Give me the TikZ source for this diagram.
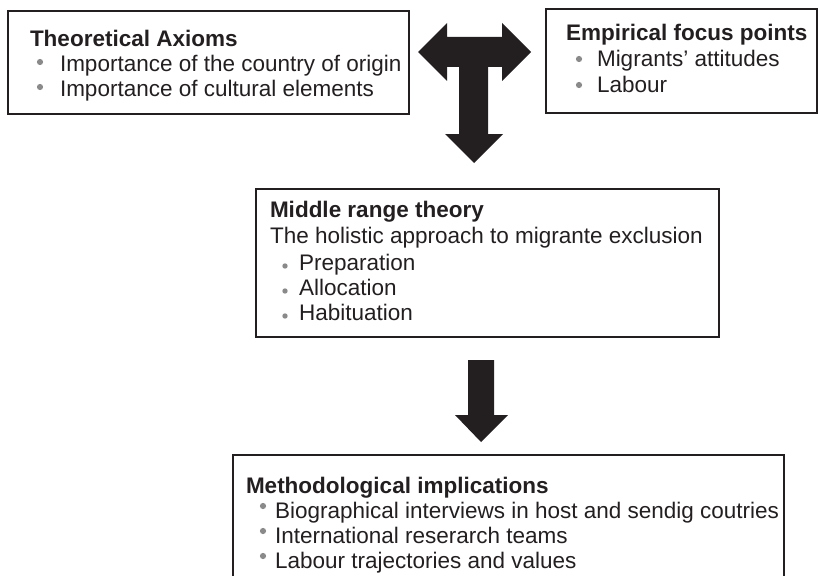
\documentclass[tikz,border=0pt]{standalone}
\usepackage{fontspec}
\setmainfont{Liberation Sans}
\definecolor{ink}{HTML}{231F20}
\definecolor{bul}{HTML}{8A8A8A}
\begin{document}
\begin{tikzpicture}[x=1pt,y=-1pt,
  box/.style={draw=ink, line width=1.7pt, rectangle, inner sep=0pt, outer sep=0pt, anchor=north west},
  txt/.style={anchor=base west, inner sep=0pt, outer sep=0pt, text=ink, font=\fontsize{22.5}{25}\selectfont},
  ttl/.style={txt, font=\fontsize{22.5}{25}\selectfont\bfseries},
  blt/.style={circle, fill=bul, inner sep=0pt, minimum size=6.2pt},
  sblt/.style={blt, minimum size=5.4pt},
  blockarrow/.style={fill=ink, draw=none}]
\useasboundingbox (0,0) rectangle (818,575);
\clip (0,0) rectangle (818,575);

% boxes
\node[box, minimum width=401pt, minimum height=103pt] (axioms) at (8,11) {};
\node[box, minimum width=271pt, minimum height=104pt] (empirical) at (546,9) {};
\node[box, minimum width=463pt, minimum height=148pt] (middle) at (256,189) {};
\node[box, minimum width=551pt, minimum height=160pt] (method) at (233,455) {};

% Theoretical Axioms
\node[ttl] (axT) at (30,47) {Theoretical Axioms};
\node[blt] (axb1) at (40,62) {};
\node[txt] (ax1) at (60,72) {Importance of the country of origin};
\node[blt] (axb2) at (40,87) {};
\node[txt] (ax2) at (60,97) {Importance of cultural elements};

% Empirical focus points
\node[ttl] (emT) at (566,41) {Empirical focus points};
\node[blt] (emb1) at (579,59) {};
\node[txt] (em1) at (597,67) {Migrants’ attitudes};
\node[blt] (emb2) at (579,85) {};
\node[txt] (em2) at (597,93) {Labour};

% Middle range theory
\node[ttl] (miT) at (270,217) {Middle range theory};
\node[txt] (mi0) at (270,243) {The holistic approach to migrante exclusion};
\node[sblt] (mib1) at (285,266) {};
\node[txt] (mi1) at (299,270) {Preparation};
\node[sblt] (mib2) at (285,291) {};
\node[txt] (mi2) at (299,295) {Allocation};
\node[sblt] (mib3) at (285,316) {};
\node[txt] (mi3) at (299,320) {Habituation};

% Methodological implications
\node[ttl] (meT) at (246,493) {Methodological implications};
\node[blt] (meb1) at (263,506) {};
\node[txt] (me1) at (275,518) {Biographical interviews in host and sendig coutries};
\node[blt] (meb2) at (263,531) {};
\node[txt] (me2) at (275,543) {International reserarch teams};
\node[blt] (meb3) at (263,556) {};
\node[txt] (me3) at (275,568) {Labour trajectories and values};

% T-shaped block arrow
\fill[blockarrow] (418,52) -- (447,23) -- (447,37) -- (502,37) -- (502,23) -- (531,52)
  -- (502,81) -- (502,67) -- (488,67) -- (488,134) -- (503,134) -- (474,163)
  -- (445,134) -- (459,134) -- (459,67) -- (447,67) -- (447,81) -- cycle;

% down block arrow
\fill[blockarrow] (468,360) -- (494,360) -- (494,415) -- (508,415) -- (481,442)
  -- (455,415) -- (468,415) -- cycle;
\end{tikzpicture}
\end{document}
